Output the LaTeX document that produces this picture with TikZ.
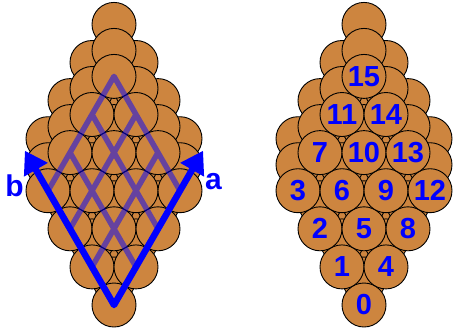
\documentclass[tikz,border=0pt]{standalone}
\usepackage{fontspec}
\setmainfont{Liberation Sans}
\usetikzlibrary{arrows.meta}
\definecolor{ball}{RGB}{205,133,63}
\begin{document}
\begin{tikzpicture}[x=1pt,y=-1pt,
  sphere/.style={circle, draw=black, fill=ball, line width=0.9pt,
    minimum size=44pt, inner sep=0pt},
  num/.style={text=blue, inner sep=0pt, font=\bfseries\fontsize{29}{29}\selectfont},
  lbl/.style={text=blue, inner sep=0pt, font=\bfseries\fontsize{30}{30}\selectfont},
  gridline/.style={draw=blue, draw opacity=0.5, line width=5.5pt, line join=round},
  vec/.style={draw=blue, line width=6.5pt, line join=round,
    arrows={Triangle[length=22pt,width=26pt]-Triangle[length=22pt,width=26pt]}}]
\useasboundingbox (0,0) rectangle (453,330);

% three close-packed layers (back to front) of a 4x4 rhombus of spheres
\foreach \side/\cx in {L/114, R/364} {
  \foreach \layer/\dy in {2/-52, 1/-26, 0/0} {
    \foreach \i in {0,...,3} {
      \foreach \j in {0,...,3} {
        \node[sphere] (\side\layer-\i-\j) at ({\cx+22*(\i-\j)}, {305-38.1*(\i+\j)+\dy}) {};
      }
    }
  }
}

% site numbers on the front layer
\foreach \i in {0,...,3} {
  \foreach \j in {0,...,3} {
    \pgfmathtruncatemacro\n{4*\i+\j}
    \node[num] (N\n) at (R0-\i-\j.center) {\n};
  }
}

% lattice lines through the front-layer centres
\draw[gridline] (L0-0-0.center) -- (L0-3-0.center) -- (L0-3-3.center) -- (L0-0-3.center) -- cycle
  foreach \k in {1,2} {(L0-\k-0.center) -- (L0-\k-3.center) (L0-0-\k.center) -- (L0-3-\k.center)};

% lattice vectors
\coordinate (tipa) at (203.1,150.7);
\coordinate (tipb) at (24.9,150.7);
\draw[vec] (tipb) -- (L0-0-0.center) -- (tipa);
\node[lbl, anchor=base] (labA) at (213.5,189) {a};
\node[lbl, anchor=base] (labB) at (14.5,196) {b};
\end{tikzpicture}
\end{document}
